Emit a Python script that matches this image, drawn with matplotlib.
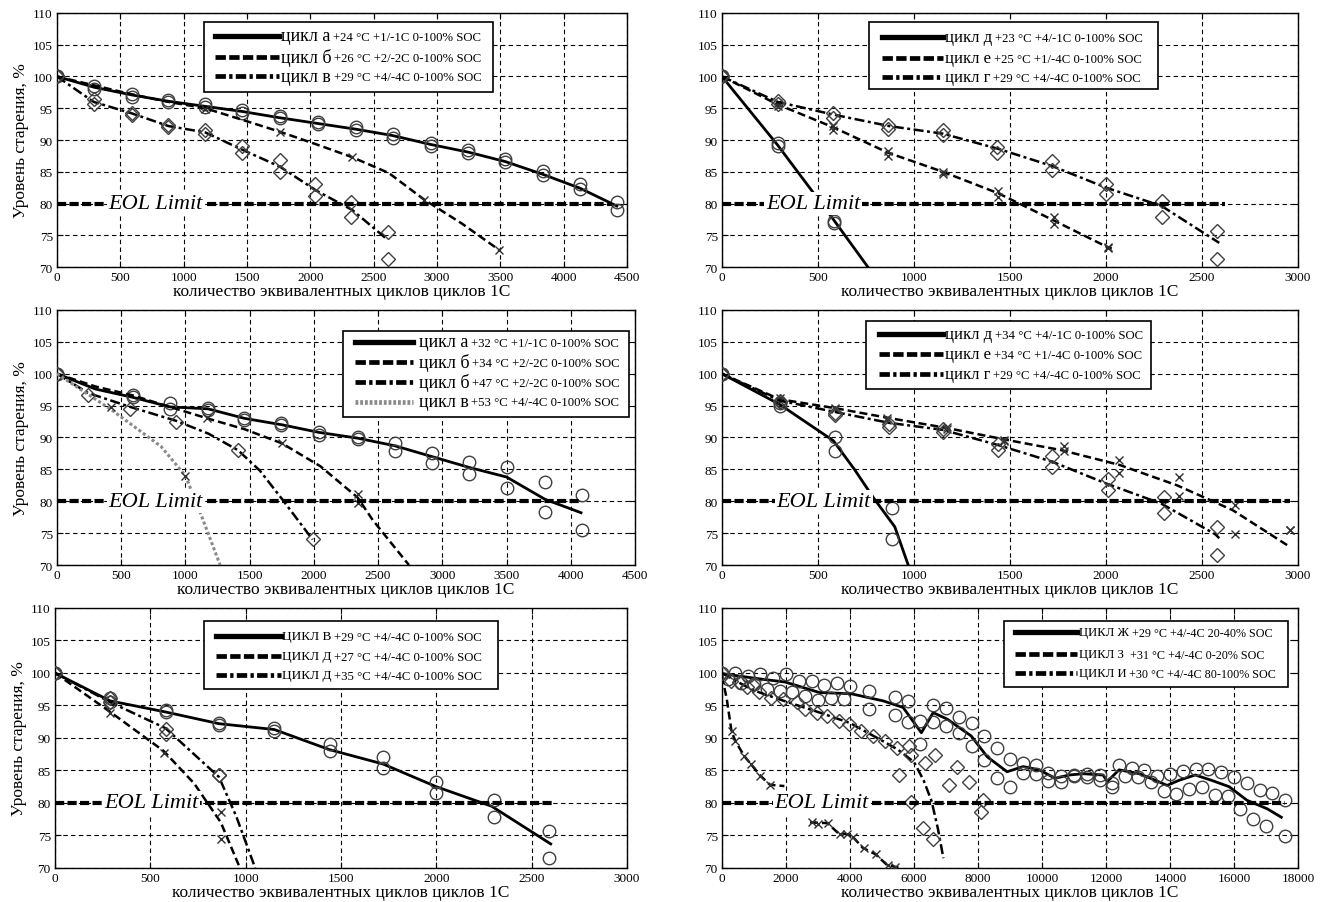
import numpy as np
import matplotlib
matplotlib.use("Agg")
import matplotlib.pyplot as plt
from matplotlib.patches import Rectangle

plt.rcParams['font.family'] = ['Liberation Serif', 'DejaVu Serif']

xlab = 'количество эквивалентных циклов циклов 1С'
ylab = 'Уровень старения, %'

# ---------------- панель 1 (верх слева) ----------------
p1_a_lx = [0, 295, 590, 880, 1170, 1460, 1760, 2060, 2360, 2650, 2950, 3245, 3540, 3835, 4130, 4420]
p1_a_ly = [100, 98.3, 97.1, 96.1, 95.3, 94.5, 93.5, 92.6, 91.7, 90.7, 89.3, 88.1, 86.6, 84.6, 82.4, 79.6]
p1_a_mx = [0, 295, 590, 880, 1170, 1460, 1760, 2060, 2360, 2650, 2950, 3245, 3540, 3835, 4130, 4420]
p1_a_my1 = [100, 98.5, 97.2, 96.3, 95.6, 94.8, 93.8, 92.8, 92.0, 91.0, 89.6, 88.5, 87.0, 85.1, 83.0, 80.2]
p1_a_my2 = [100, 98.0, 96.8, 96.0, 95.2, 94.3, 93.4, 92.5, 91.6, 90.3, 89.0, 88.0, 86.5, 84.5, 82.3, 79.0]

p1_b_lx = [0, 295, 590, 880, 1170, 1460, 1760, 2050, 2330, 2620, 2900, 3200, 3490]
p1_b_ly = [100, 98.6, 97.2, 96.0, 95.0, 93.2, 91.3, 89.3, 87.3, 84.8, 80.6, 76.8, 72.7]
p1_b_mx = [1170, 1760, 2330, 2900, 3490]
p1_b_my = [94.9, 91.2, 87.3, 80.6, 72.7]

p1_v_lx = [0, 290, 590, 880, 1170, 1460, 1760, 2050, 2330, 2610]
p1_v_ly = [100, 96.0, 94.2, 92.2, 91.2, 88.5, 85.8, 82.0, 79.0, 74.3]
p1_v_mx = [0, 290, 590, 880, 1170, 1460, 1760, 2040, 2320, 2610]
p1_v_my1 = [100, 96.5, 94.3, 92.4, 91.5, 89.0, 86.8, 83.0, 80.3, 75.5]
p1_v_my2 = [100, 95.7, 93.9, 92.0, 91.0, 88.0, 85.0, 81.2, 77.8, 71.3]

# ---------------- панель 2 (верх справа) ----------------
p2_d_lx = [0, 290, 580, 760]
p2_d_ly = [100, 89.2, 77.5, 70]
p2_d_mx = [0, 290, 585]
p2_d_my1 = [100, 89.6, 77.3]
p2_d_my2 = [100, 89.0, 77.0]

p2_e_lx = [0, 290, 580, 865, 1150, 1440, 1730, 2010, 2030]
p2_e_ly = [100, 95.6, 92.0, 88.0, 85.0, 81.6, 77.3, 73.1, 72.9]
p2_e_mx = [290, 580, 865, 1150, 1440, 1730, 2010]
p2_e_my1 = [95.8, 92.2, 88.2, 85.0, 82.0, 77.8, 73.2]
p2_e_my2 = [95.4, 91.6, 87.5, 84.6, 81.1, 76.7, 73.0]

p2_g_lx = [0, 290, 580, 870, 1150, 1440, 1720, 2000, 2290, 2590]
p2_g_ly = [100, 96.0, 94.0, 92.2, 91.0, 88.6, 85.9, 82.5, 79.6, 73.8]
p2_g_mx = [0, 290, 580, 865, 1150, 1435, 1720, 2000, 2290, 2580]
p2_g_my1 = [100, 96.2, 94.3, 92.3, 91.5, 88.9, 86.7, 83.0, 80.4, 75.6]
p2_g_my2 = [100, 95.6, 93.5, 91.8, 90.8, 88.0, 85.2, 81.5, 77.8, 71.3]

# ---------------- панель 3 (середина слева) ----------------
p3_a_lx = [0, 300, 590, 880, 1175, 1460, 1750, 2040, 2340, 2630, 2920, 3210, 3500, 3800, 4080]
p3_a_ly = [100, 97.6, 96.3, 94.8, 94.5, 93.0, 92.0, 90.8, 89.9, 88.7, 87.0, 85.3, 83.8, 80.3, 78.2]
p3_a_mx = [0, 590, 880, 1175, 1460, 1745, 2040, 2340, 2630, 2920, 3210, 3500, 3800, 4090]
p3_a_my1 = [100, 96.7, 95.4, 94.6, 93.1, 92.2, 90.9, 90.1, 89.1, 87.5, 86.2, 85.3, 83.0, 81.0]
p3_a_my2 = [100, 96.3, 94.4, 94.3, 92.8, 91.9, 90.4, 89.8, 87.9, 86.0, 84.2, 82.0, 78.3, 75.5]

p3_b_lx = [0, 300, 590, 880, 1170, 1460, 1750, 2050, 2340, 2460, 2740]
p3_b_ly = [100, 98.0, 96.6, 94.8, 93.0, 91.3, 89.1, 85.5, 80.6, 77.0, 70.0]
p3_b_mx = [1170, 1750, 2340, 2340]
p3_b_my = [93.0, 89.1, 81.2, 79.7]

p3_b47_lx = [0, 240, 570, 930, 1180, 1410, 1580, 1750, 1990]
p3_b47_ly = [100, 97.0, 94.8, 92.6, 90.6, 88.0, 84.8, 80.4, 74.0]
p3_b47_mx = [0, 240, 570, 930, 1410, 1990]
p3_b47_my = [100, 96.6, 94.5, 92.5, 88.0, 74.0]

p3_v_lx = [0, 420, 810, 1000, 1110, 1180, 1270]
p3_v_ly = [100, 94.4, 88.6, 84.0, 78.5, 74.8, 70.0]
p3_v_mx = [420, 1000]
p3_v_my = [94.8, 84.0]

# ---------------- панель 4 (середина справа) ----------------
p4_d_lx = [0, 300, 580, 690, 790, 900, 970]
p4_d_ly = [100, 95.2, 89.5, 85.0, 80.5, 76.0, 70.0]
p4_d_mx = [0, 300, 590, 885]
p4_d_my1 = [100, 95.4, 90.0, 79.0]
p4_d_my2 = [100, 95.0, 87.9, 74.0]

p4_e_lx = [0, 300, 590, 880, 1170, 1470, 1770, 2070, 2370, 2660, 2960]
p4_e_ly = [100, 96.0, 94.6, 93.0, 91.5, 89.7, 88.0, 85.7, 82.5, 78.6, 72.8]
p4_e_mx = [300, 590, 860, 1170, 1470, 1780, 2070, 2380, 2670, 2960]
p4_e_my1 = [96.2, 94.7, 93.1, 91.6, 89.6, 88.7, 86.4, 83.8, 79.4, 75.5]
p4_e_my2 = [95.8, 94.4, 92.7, 91.3, 89.4, 87.9, 84.5, 80.9, 74.9, 75.5]

p4_g_lx = [0, 300, 590, 870, 1150, 1440, 1720, 2000, 2290, 2570, 2590]
p4_g_ly = [100, 95.8, 94.0, 92.3, 91.2, 88.8, 86.2, 82.8, 79.6, 74.8, 74.2]
p4_g_mx = [0, 300, 590, 870, 1150, 1440, 1720, 2010, 2300, 2580]
p4_g_my1 = [100, 95.7, 93.9, 92.1, 91.3, 89.0, 87.1, 83.5, 80.6, 76.0]
p4_g_my2 = [100, 95.5, 93.5, 91.7, 90.8, 88.0, 85.3, 81.7, 78.1, 71.6]

# ---------------- панель 5 (низ слева) ----------------
p5_v_lx = [0, 290, 580, 860, 1150, 1440, 1720, 2000, 2290, 2600]
p5_v_ly = [100, 95.7, 94.0, 92.2, 91.3, 88.2, 86.0, 82.5, 79.5, 73.7]
p5_v_mx = [0, 290, 580, 860, 1150, 1440, 1720, 2000, 2300, 2590]
p5_v_my1 = [100, 96.1, 94.3, 92.3, 91.6, 89.0, 87.0, 83.3, 80.4, 75.7]
p5_v_my2 = [100, 95.6, 94.0, 92.0, 91.0, 88.0, 85.4, 81.5, 77.8, 71.6]

p5_d27_lx = [0, 290, 570, 730, 870, 970]
p5_d27_ly = [100, 94.0, 88.0, 83.0, 77.0, 70.0]
p5_d27_mx = [290, 570, 870, 870]
p5_d27_my = [93.8, 87.7, 78.6, 74.4]

p5_d35_lx = [0, 290, 580, 860, 950, 1050]
p5_d35_ly = [100, 95.5, 91.5, 84.0, 78.0, 70.0]
p5_d35_mx = [0, 290, 580, 860]
p5_d35_my1 = [100, 96.1, 91.4, 84.3]
p5_d35_my2 = [100, 95.5, 90.6, 84.3]

# ---------------- панель 6 (низ справа) ----------------
p6_zh_lx = [0, 1160, 1980, 3040, 4040, 5040, 5660, 6230, 6600, 7040, 7790, 8290, 8910, 9410, 9910,
            10410, 10850, 11290, 11910, 12040, 12410, 13040, 13540, 13910, 14290, 14790, 15290,
            15850, 16410, 17040, 17480]
p6_zh_ly = [99.9, 99.1, 98.6, 97.0, 96.8, 95.7, 94.7, 90.8, 93.9, 92.9, 90.3, 87.1, 84.8, 85.6, 85.1,
            83.8, 84.3, 84.5, 84.3, 83.3, 85.1, 84.5, 83.5, 82.7, 83.5, 84.3, 83.5,
            82.5, 80.4, 79.1, 77.8]
p6_zh_mx1 = [0, 400, 800, 1200, 1600, 2000, 2400, 2800, 3200, 3600, 4000, 4600, 5400, 5800, 6200, 6600,
             7000, 7400, 7800, 8200, 8600, 9000, 9400, 9800, 10200, 10600, 11000, 11400, 11800, 12200,
             12400, 12800, 13200, 13600, 14000, 14400, 14800, 15200, 15600, 16000, 16400, 16800,
             17200, 17600]
p6_zh_my1 = [100, 100, 99.6, 99.8, 99.2, 99.8, 98.7, 98.8, 98.1, 98.4, 98.0, 97.2, 96.3, 95.7, 92.6, 95.0,
             94.6, 93.3, 92.3, 90.3, 88.5, 86.8, 86.2, 85.8, 84.6, 84.1, 84.3, 84.4, 84.3, 83.0,
             85.8, 85.4, 85.0, 84.2, 84.5, 84.9, 85.2, 85.2, 84.7, 84.0, 83.0, 82.0,
             81.5, 80.5]
p6_zh_mx2 = [200, 600, 1000, 1400, 1800, 2200, 2600, 3000, 3400, 3800, 4600, 5400, 5800, 6200, 6600,
             7000, 7400, 7800, 8200, 8600, 9000, 9400, 9800, 10200, 10600, 11000, 11400, 11800, 12200,
             12600, 13000, 13400, 13800, 14200, 14600, 15000, 15400, 15800, 16200, 16600, 17000, 17600]
p6_zh_my2 = [99, 98.5, 98.3, 97.5, 97.2, 97.0, 96.4, 95.8, 96.2, 96.0, 94.4, 93.6, 92.4, 89.0, 92.4,
             91.8, 90.7, 88.8, 86.6, 83.8, 82.4, 84.6, 84.4, 83.4, 83.2, 84.1, 84.0, 83.6, 82.5,
             84.1, 84.0, 83.2, 81.9, 81.4, 82.2, 82.5, 81.3, 81.1, 79.0, 77.6, 76.5, 74.9]

p6_z_lx1 = [0, 150, 300, 420, 700, 900, 1200, 1500, 1950]
p6_z_ly1 = [99.5, 96, 91, 89.5, 87.2, 86, 84.2, 82.8, 82.6]
p6_z_lx2 = [2750, 3300, 3600, 4050, 4400, 4800, 5150, 5550]
p6_z_ly2 = [77, 76.9, 75.5, 75, 73.1, 72.1, 70.5, 70]
p6_z_mx = [300, 420, 700, 900, 1200, 1500, 2800, 3000, 3300, 3700, 3900, 4100, 4450, 4800, 5200, 5400]
p6_z_my = [91, 89.5, 87.3, 86, 84.2, 82.8, 77, 76.8, 76.9, 75.3, 75.2, 74.8, 73, 72.2, 70.5, 70.2]

p6_i_lx = [0, 500, 1000, 2000, 3000, 4000, 5000, 5500, 6000, 6300, 6550, 6750, 6920]
p6_i_ly = [100, 98.6, 97.3, 95.6, 94.0, 92.3, 89.6, 88.2, 86.3, 83.5, 80.3, 76, 71.5]
p6_i_mx = [0, 290, 540, 790, 975, 1160, 1540, 1910, 2350, 2600, 2975, 3290, 3660, 3975, 4350, 4725,
           5100, 5475, 5540, 5850, 5910, 5910, 6290, 6350, 6600, 6660, 7100, 7350, 7725, 8110, 8160]
p6_i_my = [100, 98.8, 98.6, 97.8, 98.1, 97.0, 96.2, 96.0, 95.5, 94.4, 93.9, 93.4, 92.6, 92.1, 91.1, 90.3,
           89.5, 88.4, 84.3, 88.7, 87.4, 80.1, 76.2, 86.1, 74.4, 87.4, 82.7, 85.6, 83.2, 78.6, 80.4]

# стили линий
STYLES = {
    'solid': dict(color='k', lw=2.0, linestyle='-'),
    'dash': dict(color='k', lw=1.8, dashes=(3.2, 1.6)),
    'dashdot': dict(color='k', lw=1.8, dashes=(4, 1.4, 1.2, 1.4)),
    'dot': dict(color='#8a8a8a', lw=2.2, dashes=(1, 0.8)),
}
# в легенде линии толще, штрихи плотнее
LEG = {
    'solid': dict(color='k', lw=3.8, linestyle='-'),
    'dash': dict(color='k', lw=3.4, dashes=(2.2, 0.7)),
    'dashdot': dict(color='k', lw=3.4, dashes=(2.2, 0.7, 0.7, 0.7)),
    'dot': dict(color='#8a8a8a', lw=3.4, dashes=(0.6, 0.4)),
}
MK = {
    'o': dict(marker='o', ms=9, mfc='none', mec='#404040', mew=1.0, ls='none'),
    'x': dict(marker='x', ms=6, mec='#303030', mew=1.0, ls='none'),
    'D': dict(marker='D', ms=7.5, mfc='none', mec='#404040', mew=1.0, ls='none'),
}


def panel(ax, xmax, xstep, ylabel=True):
    ax.set_xlim(0, xmax)
    ax.set_ylim(70, 110)
    ax.set_xticks(np.arange(0, xmax + 1, xstep))
    ax.set_yticks(np.arange(70, 111, 5))
    ax.grid(True, color='k', linestyle=(0, (4, 3)), linewidth=0.8)
    ax.tick_params(direction='in', top=True, right=True, labelsize=9.5, length=4, pad=3)
    ax.set_xlabel(xlab, fontsize=12.5, labelpad=0)
    if ylabel:
        ax.set_ylabel(ylab, fontsize=12.5, labelpad=3)
    for s in ax.spines.values():
        s.set_linewidth(1.0)


def series(ax, lx, ly, style, mk=None, mx=None, my1=None, my2=None):
    ax.plot(lx, ly, zorder=3, **STYLES[style])
    if mk is not None:
        ax.plot(mx, my1, zorder=3, **MK[mk])
        if my2 is not None:
            ax.plot(mx, my2, zorder=3, **MK[mk])


def eol(ax, xend, xtxt):
    ax.plot([0, xend], [80, 80], color='k', lw=3, dashes=(2.2, 0.8), zorder=4)
    ax.text(xtxt, 80, 'EOL Limit', style='italic', fontsize=16, ha='center', va='center',
            bbox=dict(fc='white', ec='none', pad=1.5), zorder=6)


def legenda(ax, box, lin, tx, rows, big, small=9.2):
    # рисуем легенду вручную: рамка, образцы линий, текст двух размеров
    x0, y0, x1, y1 = box
    ax.add_patch(Rectangle((x0, y0), x1 - x0, y1 - y0, transform=ax.transAxes,
                           fc='white', ec='k', lw=1.2, zorder=7))
    for style, name, rest, yy in rows:
        ax.plot(lin, [yy, yy], transform=ax.transAxes, zorder=8, clip_on=False, **LEG[style])
        t = ax.text(tx, yy, name, transform=ax.transAxes, fontsize=big, va='center', zorder=8)
        ax.annotate(rest, xy=(1, 0.45), xycoords=t, xytext=(2, 0), textcoords='offset points',
                    va='center', fontsize=small, zorder=8)


fig = plt.figure(figsize=(13.34, 9.03), dpi=100)

# ---- 1
ax1 = fig.add_axes([0.0427, 0.7032, 0.4273, 0.2813])
panel(ax1, 4500, 500)
series(ax1, p1_a_lx, p1_a_ly, 'solid', 'o', p1_a_mx, p1_a_my1, p1_a_my2)
series(ax1, p1_b_lx, p1_b_ly, 'dash', 'x', p1_b_mx, p1_b_my)
series(ax1, p1_v_lx, p1_v_ly, 'dashdot', 'D', p1_v_mx, p1_v_my1, p1_v_my2)
eol(ax1, 4380, 780)
legenda(ax1, (0.258, 0.69, 0.765, 0.965), (0.277, 0.39), 0.393, [
    ('solid', 'цикл а', '+24 °C +1/-1C 0-100% SOC', 0.91),
    ('dash', 'цикл б', '+26 °C +2/-2C 0-100% SOC', 0.827),
    ('dashdot', 'цикл в', '+29 °C +4/-4C 0-100% SOC', 0.75)], 13)

# ---- 2
ax2 = fig.add_axes([0.5412, 0.7032, 0.4318, 0.2813])
panel(ax2, 3000, 500, ylabel=False)
series(ax2, p2_d_lx, p2_d_ly, 'solid', 'o', p2_d_mx, p2_d_my1, p2_d_my2)
series(ax2, p2_e_lx, p2_e_ly, 'dash', 'x', p2_e_mx, p2_e_my1, p2_e_my2)
series(ax2, p2_g_lx, p2_g_ly, 'dashdot', 'D', p2_g_mx, p2_g_my1, p2_g_my2)
eol(ax2, 2620, 475)
legenda(ax2, (0.255, 0.70, 0.757, 0.965), (0.278, 0.384), 0.387, [
    ('solid', 'цикл д', '+23 °C +4/-1C 0-100% SOC', 0.906),
    ('dash', 'цикл е', '+25 °C +1/-4C 0-100% SOC', 0.824),
    ('dashdot', 'цикл г', '+29 °C +4/-4C 0-100% SOC', 0.749)], 12)

# ---- 3
ax3 = fig.add_axes([0.0427, 0.3732, 0.4333, 0.2824])
panel(ax3, 4500, 500)
series(ax3, p3_a_lx, p3_a_ly, 'solid', 'o', p3_a_mx, p3_a_my1, p3_a_my2)
series(ax3, p3_b_lx, p3_b_ly, 'dash', 'x', p3_b_mx, p3_b_my)
series(ax3, p3_b47_lx, p3_b47_ly, 'dashdot', 'D', p3_b47_mx, p3_b47_my)
series(ax3, p3_v_lx, p3_v_ly, 'dot', 'x', p3_v_mx, p3_v_my)
eol(ax3, 4085, 770)
legenda(ax3, (0.495, 0.58, 0.99, 0.918), (0.516, 0.616), 0.626, [
    ('solid', 'цикл а', '+32 °C +1/-1C 0-100% SOC', 0.875),
    ('dash', 'цикл б', '+34 °C +2/-2C 0-100% SOC', 0.796),
    ('dashdot', 'цикл б', '+47 °C +2/-2C 0-100% SOC', 0.718),
    ('dot', 'цикл в', '+53 °C +4/-4C 0-100% SOC', 0.641)], 13)

# ---- 4
ax4 = fig.add_axes([0.5412, 0.3732, 0.4318, 0.2824])
panel(ax4, 3000, 500, ylabel=False)
series(ax4, p4_d_lx, p4_d_ly, 'solid', 'o', p4_d_mx, p4_d_my1, p4_d_my2)
series(ax4, p4_e_lx, p4_e_ly, 'dash', 'x', p4_e_mx, p4_e_my1, p4_e_my2)
series(ax4, p4_g_lx, p4_g_ly, 'dashdot', 'D', p4_g_mx, p4_g_my1, p4_g_my2)
eol(ax4, 2960, 530)
legenda(ax4, (0.25, 0.69, 0.745, 0.957), (0.273, 0.384), 0.387, [
    ('solid', 'цикл д', '+34 °C +4/-1C 0-100% SOC', 0.906),
    ('dash', 'цикл е', '+34 °C +1/-4C 0-100% SOC', 0.827),
    ('dashdot', 'цикл г', '+29 °C +4/-4C 0-100% SOC', 0.749)], 12)

# ---- 5
ax5 = fig.add_axes([0.0412, 0.0377, 0.4288, 0.2879])
panel(ax5, 3000, 500)
series(ax5, p5_v_lx, p5_v_ly, 'solid', 'o', p5_v_mx, p5_v_my1, p5_v_my2)
series(ax5, p5_d27_lx, p5_d27_ly, 'dash', 'x', p5_d27_mx, p5_d27_my)
series(ax5, p5_d35_lx, p5_d35_ly, 'dashdot', 'D', p5_d35_mx, p5_d35_my1, p5_d35_my2)
eol(ax5, 2620, 505)
legenda(ax5, (0.26, 0.688, 0.775, 0.95), (0.281, 0.395), 0.397, [
    ('solid', 'ЦИКЛ В', '+29 °C +4/-4C 0-100% SOC', 0.892),
    ('dash', 'ЦИКЛ Д', '+27 °C +4/-4C 0-100% SOC', 0.815),
    ('dashdot', 'ЦИКЛ Д', '+35 °C +4/-4C 0-100% SOC', 0.742)], 9.5)

# ---- 6
ax6 = fig.add_axes([0.5412, 0.0377, 0.4318, 0.2879])
panel(ax6, 18000, 2000, ylabel=False)
series(ax6, p6_zh_lx, p6_zh_ly, 'solid', 'o', p6_zh_mx1, p6_zh_my1)
ax6.plot(p6_zh_mx2, p6_zh_my2, zorder=3, **MK['o'])
series(ax6, p6_z_lx1, p6_z_ly1, 'dash')
series(ax6, p6_z_lx2, p6_z_ly2, 'dash', 'x', p6_z_mx, p6_z_my)
series(ax6, p6_i_lx, p6_i_ly, 'dashdot', 'D', p6_i_mx, p6_i_my)
eol(ax6, 17600, 3120)
legenda(ax6, (0.49, 0.696, 0.982, 0.95), (0.508, 0.617), 0.62, [
    ('solid', 'ЦИКЛ Ж', '+29 °C +4/-4C 20-40% SOC', 0.908),
    ('dash', 'ЦИКЛ З', ' +31 °C +4/-4C 0-20% SOC', 0.823),
    ('dashdot', 'ЦИКЛ И', '+30 °C +4/-4C 80-100% SOC', 0.75)], 9.2, small=8.7)

fig.savefig('out.png', dpi=100)
